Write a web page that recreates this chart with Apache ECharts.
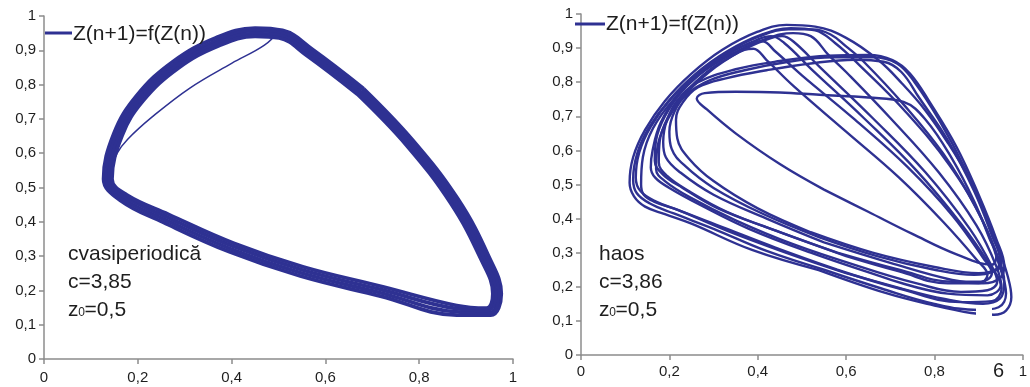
<!DOCTYPE html>
<html>
<head>
<meta charset="utf-8">
<title>Z(n+1)=f(Z(n))</title>
<script src="https://cdn.jsdelivr.net/npm/echarts@6/dist/echarts.min.js"></script>
<style>
  html, body { margin: 0; padding: 0; background: #ffffff; }
  #chart { width: 1030px; height: 387px; }
</style>
</head>
<body>
<div id="chart"></div>
<script>
// Phase portraits (Z(n), Z(n+1)) of the delayed logistic map.
const seriesName = 'Z(n+1)=f(Z(n))';
const axisTicksY = [0, 0.1, 0.2, 0.3, 0.4, 0.5, 0.6, 0.7, 0.8, 0.9, 1];
const axisTicksX = [0, 0.2, 0.4, 0.6, 0.8, 1];

// c = 3,85 : quasi-periodic orbit, four closely spaced turns of the invariant curve
const quasiStrandA = [[0.6817,0.788],[0.7872,0.6367],[0.8828,0.4661],[0.9485,0.2987],[0.975,0.19],[0.9525,0.1276],[0.88,0.128],[0.7174,0.1834],[0.5464,0.2418],[0.3954,0.3124],[0.2544,0.3984],[0.1637,0.4614],[0.127,0.525],[0.149,0.6575],[0.197,0.767],[0.2746,0.867],[0.367,0.937],[0.45,0.965],[0.5086,0.958],[0.5713,0.9036],[0.6817,0.788]];
const quasiStrandB = [[0.6772,0.7827],[0.7824,0.6322],[0.8776,0.462],[0.9428,0.2962],[0.969,0.19],[0.9495,0.1345],[0.88,0.1373],[0.7191,0.1925],[0.5488,0.2506],[0.3985,0.3208],[0.2581,0.4061],[0.1679,0.4671],[0.133,0.525],[0.1551,0.6558],[0.2016,0.7625],[0.2782,0.8603],[0.3691,0.9289],[0.45,0.9571],[0.5062,0.9507],[0.5671,0.8979],[0.6772,0.7827]];
const quasiStrandC = [[0.6728,0.7773],[0.7776,0.6278],[0.8724,0.458],[0.9372,0.2938],[0.963,0.19],[0.9465,0.1415],[0.88,0.1467],[0.7209,0.2015],[0.5512,0.2594],[0.4015,0.3292],[0.2619,0.4139],[0.1721,0.4729],[0.139,0.525],[0.1609,0.6542],[0.2064,0.7575],[0.2818,0.8537],[0.3709,0.9211],[0.45,0.9489],[0.5038,0.9433],[0.5629,0.8921],[0.6728,0.7773]];
const quasiStrandD = [[0.6683,0.772],[0.7728,0.6233],[0.8672,0.4539],[0.9315,0.2913],[0.957,0.19],[0.9435,0.1484],[0.88,0.156],[0.7226,0.2106],[0.5536,0.2682],[0.4046,0.3376],[0.2656,0.4216],[0.1763,0.4786],[0.145,0.525],[0.1668,0.6525],[0.2112,0.7526],[0.2854,0.8472],[0.3727,0.9134],[0.45,0.9407],[0.5014,0.936],[0.5587,0.8864],[0.6683,0.772]];
// first iterates from z0 = 0,5 before settling on the curve
const quasiTransient = [[0.50,0.955],[0.47,0.915],[0.40,0.862],[0.311,0.79],[0.23,0.705],[0.178,0.64],[0.156,0.60],[0.146,0.56]];

// c = 3,86 : chaotic orbit, successive turns of different size
const chaosTurn1 = [[0.538,0.249],[0.387,0.308],[0.25,0.385],[0.19,0.413],[0.145,0.435],[0.12,0.465],[0.11,0.505],[0.118,0.58],[0.145,0.66],[0.19,0.745],[0.25,0.825],[0.32,0.895],[0.40,0.948],[0.465,0.968],[0.53,0.963],[0.60,0.93],[0.673,0.865],[0.726,0.797],[0.779,0.718],[0.831,0.621],[0.876,0.523],[0.914,0.415],[0.944,0.318],[0.966,0.23],[0.974,0.17],[0.962,0.13],[0.935,0.118],[0.883,0.123],[0.80,0.145],[0.689,0.182],[0.538,0.249]];
const chaosTurn2 = [[0.55,0.25],[0.42,0.305],[0.30,0.37],[0.21,0.415],[0.155,0.445],[0.126,0.475],[0.118,0.515],[0.127,0.59],[0.153,0.665],[0.198,0.745],[0.26,0.825],[0.33,0.89],[0.41,0.94],[0.475,0.958],[0.53,0.952],[0.575,0.915],[0.63,0.85],[0.73,0.72],[0.835,0.555],[0.91,0.39],[0.95,0.25],[0.962,0.18],[0.945,0.14],[0.90,0.132],[0.80,0.15],[0.68,0.195],[0.55,0.25]];
const chaosTurn3 = [[0.58,0.25],[0.44,0.315],[0.32,0.375],[0.22,0.425],[0.165,0.45],[0.142,0.47],[0.136,0.50],[0.14,0.58],[0.163,0.665],[0.21,0.75],[0.27,0.825],[0.345,0.885],[0.42,0.928],[0.48,0.944],[0.52,0.935],[0.56,0.88],[0.60,0.83],[0.70,0.695],[0.81,0.535],[0.895,0.38],[0.94,0.26],[0.952,0.195],[0.93,0.158],[0.86,0.155],[0.72,0.195],[0.58,0.25]];
const chaosTurn4 = [[0.63,0.26],[0.48,0.325],[0.35,0.395],[0.25,0.46],[0.19,0.51],[0.17,0.545],[0.172,0.60],[0.19,0.675],[0.23,0.755],[0.29,0.83],[0.36,0.89],[0.42,0.925],[0.455,0.935],[0.48,0.92],[0.54,0.845],[0.66,0.695],[0.78,0.535],[0.88,0.37],[0.93,0.26],[0.942,0.215],[0.92,0.19],[0.86,0.185],[0.76,0.21],[0.63,0.26]];
const chaosTurn5 = [[0.68,0.23],[0.52,0.30],[0.38,0.37],[0.27,0.44],[0.20,0.49],[0.168,0.52],[0.158,0.55],[0.162,0.60],[0.18,0.68],[0.22,0.765],[0.28,0.84],[0.35,0.895],[0.40,0.925],[0.43,0.935],[0.46,0.915],[0.52,0.84],[0.64,0.695],[0.76,0.54],[0.86,0.385],[0.925,0.265],[0.95,0.205],[0.92,0.175],[0.83,0.18],[0.68,0.23]];
const chaosTurn6 = [[0.58,0.30],[0.43,0.37],[0.31,0.43],[0.23,0.49],[0.185,0.53],[0.167,0.57],[0.17,0.63],[0.19,0.70],[0.23,0.775],[0.29,0.845],[0.34,0.888],[0.385,0.915],[0.41,0.92],[0.44,0.89],[0.50,0.82],[0.62,0.69],[0.74,0.55],[0.84,0.41],[0.91,0.285],[0.93,0.24],[0.905,0.215],[0.84,0.215],[0.72,0.25],[0.58,0.30]];
const chaosTurn7 = [[0.55,0.33],[0.42,0.40],[0.30,0.47],[0.225,0.535],[0.192,0.58],[0.186,0.625],[0.195,0.69],[0.22,0.75],[0.265,0.80],[0.35,0.838],[0.45,0.862],[0.56,0.878],[0.65,0.88],[0.705,0.865],[0.745,0.825],[0.79,0.74],[0.85,0.61],[0.90,0.47],[0.94,0.34],[0.958,0.26],[0.948,0.225],[0.91,0.21],[0.84,0.22],[0.70,0.27],[0.55,0.33]];
const chaosTurn8 = [[0.52,0.36],[0.40,0.43],[0.30,0.51],[0.245,0.575],[0.218,0.635],[0.215,0.69],[0.23,0.74],[0.265,0.785],[0.33,0.812],[0.42,0.835],[0.52,0.855],[0.62,0.866],[0.685,0.86],[0.725,0.83],[0.765,0.755],[0.83,0.63],[0.89,0.48],[0.93,0.35],[0.948,0.28],[0.94,0.252],[0.90,0.24],[0.80,0.258],[0.66,0.30],[0.52,0.36]];
const chaosTurn9 = [[0.55,0.485],[0.45,0.56],[0.35,0.65],[0.285,0.72],[0.262,0.752],[0.28,0.768],[0.35,0.772],[0.45,0.77],[0.54,0.763],[0.65,0.755],[0.73,0.742],[0.78,0.69],[0.84,0.575],[0.89,0.45],[0.925,0.34],[0.94,0.29],[0.93,0.265],[0.85,0.295],[0.75,0.355],[0.65,0.42],[0.55,0.485]];
const chaosTurn10 = [[0.60,0.24],[0.46,0.302],[0.33,0.365],[0.23,0.42],[0.17,0.45],[0.135,0.48],[0.124,0.52],[0.132,0.595],[0.158,0.67],[0.203,0.75],[0.265,0.828],[0.335,0.89],[0.405,0.935],[0.47,0.955],[0.525,0.955],[0.565,0.94],[0.60,0.905],[0.64,0.86],[0.73,0.735],[0.82,0.59],[0.895,0.43],[0.94,0.30],[0.958,0.21],[0.948,0.165],[0.91,0.15],[0.82,0.165],[0.72,0.197],[0.60,0.24]];
const chaosTurn11 = [[0.60,0.29],[0.45,0.36],[0.33,0.42],[0.245,0.48],[0.195,0.525],[0.176,0.565],[0.178,0.625],[0.196,0.695],[0.235,0.768],[0.29,0.835],[0.335,0.872],[0.37,0.895],[0.39,0.898],[0.42,0.865],[0.48,0.79],[0.60,0.655],[0.72,0.52],[0.82,0.39],[0.895,0.28],[0.92,0.235],[0.90,0.21],[0.83,0.21],[0.72,0.245],[0.60,0.29]];
const chaosTurn12 = [[0.54,0.345],[0.41,0.415],[0.30,0.49],[0.235,0.555],[0.205,0.605],[0.2,0.655],[0.212,0.715],[0.24,0.765],[0.29,0.805],[0.37,0.835],[0.47,0.86],[0.57,0.873],[0.66,0.873],[0.715,0.855],[0.755,0.80],[0.81,0.69],[0.87,0.545],[0.915,0.41],[0.945,0.31],[0.952,0.268],[0.935,0.245],[0.89,0.235],[0.80,0.25],[0.67,0.29],[0.54,0.345]];

const quasiOrbit = [quasiStrandA, quasiStrandB, quasiStrandC, quasiStrandD];
const chaosOrbit = [chaosTurn1, chaosTurn2, chaosTurn3, chaosTurn4, chaosTurn5, chaosTurn6,
                    chaosTurn7, chaosTurn8, chaosTurn9, chaosTurn10, chaosTurn11, chaosTurn12];

const lineColor = '#2e3192';
const axisColor = '#8c8c8c';
const labelColor = '#1e1e1e';
const textFont = '"Liberation Sans", Arial, sans-serif';

function fmt(v) {
  return String(Math.round(v * 10) / 10).replace('.', ',');
}

function makeAxis(gridIndex, ticks, margin) {
  return {
    type: 'value', gridIndex: gridIndex,
    min: ticks[0], max: ticks[ticks.length - 1], interval: ticks[1] - ticks[0],
    axisLine: { show: true, onZero: false, lineStyle: { color: axisColor, width: 1.5 } },
    axisTick: { show: true, inside: false, length: 5, lineStyle: { color: axisColor, width: 1.5 } },
    splitLine: { show: false },
    axisLabel: { show: true, color: labelColor, fontFamily: textFont, fontSize: 15, margin: margin, formatter: fmt }
  };
}

function orbitSeries(points, axisIndex, width) {
  return {
    name: seriesName, type: 'line', data: points,
    xAxisIndex: axisIndex, yAxisIndex: axisIndex,
    smooth: 0.4, showSymbol: false, symbol: 'none', clip: false,
    lineStyle: { color: lineColor, width: width },
    silent: true, animation: false
  };
}

const series = [];
quasiOrbit.forEach(s => series.push(orbitSeries(s, 0, 3.7)));
series.push(orbitSeries(quasiTransient, 0, 1.5));
chaosOrbit.forEach(s => series.push(orbitSeries(s, 1, 2.4)));

function label(x, y, text, size) {
  return { type: 'text', x: x, y: y, z: 50,
    style: { text: text, font: size + 'px ' + textFont, fill: labelColor, verticalAlign: 'middle', align: 'left' } };
}

function legendMark(x1, x2, y, tx, ty) {
  return [
    { type: 'line', z: 50, shape: { x1: x1, y1: y, x2: x2, y2: y }, style: { stroke: lineColor, lineWidth: 3 } },
    label(tx, ty, seriesName, 21)
  ];
}

function caption(x, lines) {
  return [
    label(x, 254, lines[0], 21),
    label(x, 282, lines[1], 21),
    label(x, 310, 'z', 21),
    label(x + 10.2, 313, '0', 12),
    label(x + 16.6, 310, '=0,5', 21)
  ];
}

const graphics = [].concat(
  legendMark(45, 72, 33, 73, 34),
  legendMark(575, 605, 24, 606, 24),
  caption(68, ['cvasiperiodică', 'c=3,85']),
  caption(599, ['haos', 'c=3,86']),
  [
    { type: 'rect', z: 60, shape: { x: 976, y: 305, width: 16, height: 12 }, style: { fill: '#ffffff' } },
    label(993, 371, '6', 20)
  ]
);

const chart = echarts.init(document.getElementById('chart'), null, { renderer: 'canvas' });
chart.setOption({
  animation: false,
  backgroundColor: '#ffffff',
  grid: [
    { left: 44, top: 16, width: 469, height: 343, containLabel: false },
    { left: 581, top: 14, width: 444, height: 341, containLabel: false }
  ],
  xAxis: [makeAxis(0, axisTicksX, 11), makeAxis(1, axisTicksX, 9)],
  yAxis: [makeAxis(0, axisTicksY, 8), makeAxis(1, axisTicksY, 8)],
  series: series,
  graphic: graphics
});
</script>
</body>
</html>
